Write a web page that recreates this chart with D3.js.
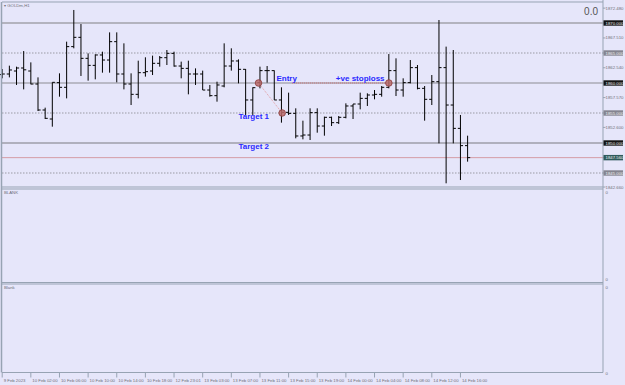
<!DOCTYPE html>
<html>
<head>
<meta charset="utf-8">
<script src="https://cdn.jsdelivr.net/npm/d3@7"></script>
<style>
    body { margin: 0; background: #e6e6fa; }
    svg text { font-family: "Liberation Sans", Arial, sans-serif; }
</style>
</head>
<body>
<script>
// GOLDm H1 bars, 9 Feb 22:00 -> 14 Feb 17:00
var opens  = [1861.40, 1861.50, 1862.00, 1862.50, 1862.00, 1859.83, 1855.50, 1854.00, 1860.06, 1859.28,
              1866.06, 1867.61, 1864.11, 1862.94, 1864.67, 1863.83, 1866.89, 1861.50, 1859.83, 1858.11,
              1861.72, 1862.00, 1863.28, 1864.22, 1864.94, 1862.83, 1862.44, 1861.50, 1861.50, 1858.83,
              1857.89, 1859.50, 1862.83, 1863.67, 1862.28, 1857.17, 1860.06, 1862.06, 1862.06, 1857.17,
              1855.11, 1854.94, 1851.17, 1851.33, 1855.06, 1852.83, 1854.28, 1853.39, 1854.28, 1856.17,
              1856.50, 1857.44, 1858.00, 1858.11, 1859.28, 1862.06, 1858.83, 1860.06, 1862.56, 1859.11,
              1857.28, 1860.22, 1862.56, 1856.33, 1852.44, 1849.56];
var highs  = [1862.33, 1862.89, 1862.72, 1865.33, 1863.44, 1860.94, 1855.89, 1860.11, 1861.61, 1866.89,
              1872.17, 1869.83, 1864.94, 1864.78, 1865.22, 1868.44, 1868.44, 1866.61, 1861.61, 1863.72,
              1864.28, 1864.56, 1864.50, 1865.50, 1865.22, 1863.56, 1863.72, 1862.44, 1862.06, 1859.67,
              1860.22, 1866.61, 1865.78, 1863.94, 1862.33, 1859.28, 1862.72, 1862.83, 1862.10, 1859.28,
              1858.39, 1855.78, 1853.72, 1855.78, 1855.78, 1854.39, 1854.39, 1854.50, 1856.61, 1856.50,
              1858.39, 1858.28, 1858.83, 1859.50, 1864.83, 1864.11, 1860.78, 1863.83, 1863.00, 1859.50,
              1861.33, 1870.50, 1866.06, 1865.50, 1854.67, 1851.22];
var lows   = [1860.78, 1860.94, 1859.67, 1858.94, 1859.78, 1855.33, 1854.00, 1852.72, 1857.72, 1857.44,
              1865.78, 1861.17, 1860.39, 1860.61, 1861.72, 1861.72, 1860.11, 1858.94, 1856.33, 1857.44,
              1861.06, 1861.33, 1862.72, 1863.00, 1862.72, 1860.78, 1858.11, 1859.67, 1858.83, 1857.72,
              1856.89, 1859.28, 1862.06, 1859.94, 1854.67, 1854.67, 1859.11, 1860.06, 1857.17, 1853.39,
              1854.67, 1850.78, 1850.61, 1850.50, 1851.72, 1851.22, 1852.83, 1853.17, 1854.11, 1854.00,
              1855.61, 1856.17, 1857.28, 1857.72, 1859.11, 1857.83, 1857.72, 1859.94, 1858.94, 1853.72,
              1856.33, 1849.94, 1843.28, 1849.94, 1843.83, 1846.89];
var closes = [1861.50, 1862.17, 1862.50, 1862.20, 1859.83, 1855.50, 1854.11, 1860.11, 1859.28, 1866.06,
              1867.61, 1864.11, 1862.94, 1864.67, 1863.83, 1866.89, 1861.50, 1859.83, 1858.11, 1861.72,
              1861.89, 1863.28, 1864.22, 1864.94, 1862.83, 1862.44, 1861.50, 1861.50, 1858.83, 1857.89,
              1859.67, 1862.83, 1863.67, 1862.28, 1857.17, 1859.22, 1862.06, 1862.06, 1857.17, 1855.11,
              1854.94, 1851.17, 1851.33, 1855.06, 1852.83, 1854.28, 1853.39, 1854.28, 1856.17, 1856.50,
              1857.44, 1858.00, 1858.11, 1859.28, 1862.06, 1858.83, 1860.06, 1862.56, 1859.11, 1857.28,
              1860.22, 1862.56, 1856.33, 1852.44, 1849.56, 1847.56];

var timeTickIdx = [0, 4, 8, 12, 16, 20, 24, 28, 32, 36, 40, 44, 48, 52, 56, 60, 64];
var timeLabels  = ["9 Feb 2023", "10 Feb 02:00", "10 Feb 06:00", "10 Feb 10:00", "10 Feb 14:00",
                   "10 Feb 18:00", "12 Feb 23:01", "13 Feb 03:00", "13 Feb 07:00", "13 Feb 11:00",
                   "13 Feb 15:00", "13 Feb 19:00", "14 Feb 00:00", "14 Feb 04:00", "14 Feb 08:00",
                   "14 Feb 12:00", "14 Feb 16:00"];

var priceTicks  = [1872.48, 1870, 1867.51, 1865, 1862.54, 1860, 1857.57, 1855, 1852.6, 1850, 1847.56, 1845, 1842.66];
var priceKinds  = ["", "solid", "", "dot", "", "solid", "", "dot", "", "solid", "bid", "dot", ""];

var markerIdx   = [35.8, 39.1, 54];
var markerPrice = [1860, 1855, 1860];

var noteText    = ["Entry", "+ve stoploss", "Target 1", "Target 2"];
var noteIdx     = [38.3, 46.6, 33.0, 33.0];
var notePrice   = [1860.33, 1860.33, 1853.92, 1849.0];

var bidPrice = 1847.56;

var width = 625;
var height = 385;
var left = 2;
var axisX = 603;
var mainTop = 2, mainBottom = 187;
var sub1Top = 189, sub1Bottom = 282.5;
var sub2Top = 284, sub2Bottom = 372.5;
var borderColor = "#97a3b3";
var textColor = "#6e6e78";

var svg = d3.select("body").append("svg")
    .attr("width", width)
    .attr("height", height);

svg.append("rect")
    .attr("width", width)
    .attr("height", height)
    .style("fill", "#e6e6fa");

var x = d3.scaleLinear().domain([0, 65]).range([2.2, 2.2 + 65 * 7.16]);
var y = d3.scaleLinear().domain([1870, 1850]).range([23, 143]);

/*****************  Level lines **********************/

var levels = svg.append("g");
priceTicks.forEach(function (p, i) {
    var k = priceKinds[i];
    if (k == "solid" || k == "dot") {
        levels.append("line")
            .attr("x1", left)
            .attr("x2", axisX)
            .attr("y1", y(p))
            .attr("y2", y(p))
            .style("stroke", function () {
                if (k == "dot") return "#9a9aa4";
                if (p == 1870) return "#a2a2aa";
                if (p == 1850) return "#7a7a80";
                return "#8c8c92";
            })
            .style("stroke-width", p == 1870 ? 1.6 : 1)
            .style("stroke-dasharray", k == "dot" ? "1.5,1.5" : null);
    }
});

levels.append("line")
    .attr("x1", left)
    .attr("x2", axisX)
    .attr("y1", y(bidPrice))
    .attr("y2", y(bidPrice))
    .style("stroke", "#d08a90")
    .style("stroke-width", 0.8);

/*****************  Bars **********************/

var bars = svg.append("g").selectAll("g")
    .data(opens)
    .enter()
    .append("g")
    .style("stroke", "#000")
    .style("stroke-width", 1);

bars.append("line")
    .attr("x1", function (d, i) { return x(i); })
    .attr("x2", function (d, i) { return x(i); })
    .attr("y1", function (d, i) { return y(highs[i]); })
    .attr("y2", function (d, i) { return y(lows[i]); });

bars.append("line")
    .attr("x1", function (d, i) { return x(i) - 2.6; })
    .attr("x2", function (d, i) { return x(i); })
    .attr("y1", function (d) { return y(d); })
    .attr("y2", function (d) { return y(d); });

bars.append("line")
    .attr("x1", function (d, i) { return x(i); })
    .attr("x2", function (d, i) { return x(i) + 2.6; })
    .attr("y1", function (d, i) { return y(closes[i]); })
    .attr("y2", function (d, i) { return y(closes[i]); });

/*****************  Trade annotations **********************/

svg.append("line")
    .attr("x1", x(markerIdx[0]))
    .attr("y1", y(markerPrice[0]))
    .attr("x2", x(markerIdx[1]))
    .attr("y2", y(markerPrice[1]))
    .style("stroke", "#e08888")
    .style("stroke-width", 0.8)
    .style("stroke-dasharray", "1,1");

svg.append("line")
    .attr("x1", x(40.5))
    .attr("x2", x(53.6))
    .attr("y1", y(1860))
    .attr("y2", y(1860))
    .style("stroke", "#d05050")
    .style("stroke-width", 0.8)
    .style("stroke-dasharray", "1,1");

svg.selectAll(".marker")
    .data(markerIdx)
    .enter()
    .append("circle")
    .attr("cx", function (d) { return x(d); })
    .attr("cy", function (d, i) { return y(markerPrice[i]); })
    .attr("r", 3.3)
    .style("fill", "#b86a6a")
    .style("fill-opacity", 0.85)
    .style("stroke", "#8a3a3a")
    .style("stroke-width", 0.8);

svg.selectAll(".note")
    .data(noteText)
    .enter()
    .append("text")
    .attr("x", function (d, i) { return x(noteIdx[i]); })
    .attr("y", function (d, i) { return y(notePrice[i]); })
    .style("font-size", "8px")
    .style("font-weight", "bold")
    .style("fill", "#2a2aff")
    .text(function (d) { return d; });

/*****************  Panel frames **********************/

var frame = svg.append("g").style("stroke", borderColor).style("fill", "none");

[mainTop, mainBottom, sub1Top, sub1Bottom, sub2Top, sub2Bottom].forEach(function (yy) {
    frame.append("line")
        .attr("x1", left)
        .attr("x2", axisX)
        .attr("y1", yy)
        .attr("y2", yy)
        .style("stroke-width", 1);
});

frame.append("line")
    .attr("x1", 1.5).attr("x2", 1.5)
    .attr("y1", mainTop).attr("y2", sub2Bottom)
    .style("stroke-width", 1.5);

frame.append("line")
    .attr("x1", axisX).attr("x2", axisX)
    .attr("y1", 0).attr("y2", sub2Bottom)
    .style("stroke-width", 1);

/*****************  Price axis **********************/

var pAxis = svg.append("g");

pAxis.selectAll("line")
    .data(priceTicks)
    .enter()
    .append("line")
    .attr("x1", axisX)
    .attr("x2", axisX + 2.5)
    .attr("y1", function (d) { return y(d); })
    .attr("y2", function (d) { return y(d); })
    .style("stroke", borderColor);

pAxis.selectAll("rect")
    .data(priceTicks.filter(function (d, i) { return priceKinds[i] != ""; }))
    .enter()
    .append("rect")
    .attr("x", axisX + 0.5)
    .attr("y", function (d) { return y(d) - 2.7; })
    .attr("width", 19.5)
    .attr("height", 5.4)
    .style("fill", function (d) {
        var k = priceKinds[priceTicks.indexOf(d)];
        if (k == "solid") return "#141414";
        if (k == "bid") return "#2f5a5c";
        return "#858590";
    });

pAxis.selectAll("text")
    .data(priceTicks)
    .enter()
    .append("text")
    .attr("x", axisX + 2.5)
    .attr("y", function (d) { return y(d) + 1.5; })
    .style("font-size", "4.3px")
    .style("fill", function (d, i) { return priceKinds[i] == "" ? textColor : "#f2f2f2"; })
    .text(function (d) { return d.toFixed(3); });

svg.append("text")
    .attr("x", 598)
    .attr("y", 15)
    .attr("text-anchor", "end")
    .style("font-size", "10px")
    .style("fill", "#555")
    .text("0.0");

svg.append("text")
    .attr("x", 4)
    .attr("y", 6.5)
    .style("font-size", "4.3px")
    .style("fill", textColor)
    .text("\u25BE GOLDm,H1");

svg.append("text").attr("x", 4).attr("y", 194).style("font-size", "4.3px").style("fill", textColor).text("BLANK");
svg.append("text").attr("x", 4).attr("y", 289).style("font-size", "4.3px").style("fill", textColor).text("Blank");

[[sub1Top + 3, "0"], [sub1Bottom - 3, "0"], [sub2Top + 3, "0"], [sub2Bottom + 1, "0"]].forEach(function (t) {
    svg.append("text")
        .attr("x", axisX + 2.5)
        .attr("y", t[0] + 1.5)
        .style("font-size", "4.3px")
        .style("fill", textColor)
        .text(t[1]);
});

/*****************  Time axis **********************/

var tAxis = svg.append("g");

tAxis.selectAll("line")
    .data(timeTickIdx)
    .enter()
    .append("line")
    .attr("x1", function (d) { return x(d); })
    .attr("x2", function (d) { return x(d); })
    .attr("y1", sub2Bottom)
    .attr("y2", sub2Bottom + 5)
    .style("stroke", borderColor);

tAxis.selectAll("text")
    .data(timeTickIdx)
    .enter()
    .append("text")
    .attr("x", function (d) { return x(d) + 1.5; })
    .attr("y", 382)
    .style("font-size", "4.3px")
    .style("fill", textColor)
    .text(function (d, i) { return timeLabels[i]; });
</script>
</body>
</html>
